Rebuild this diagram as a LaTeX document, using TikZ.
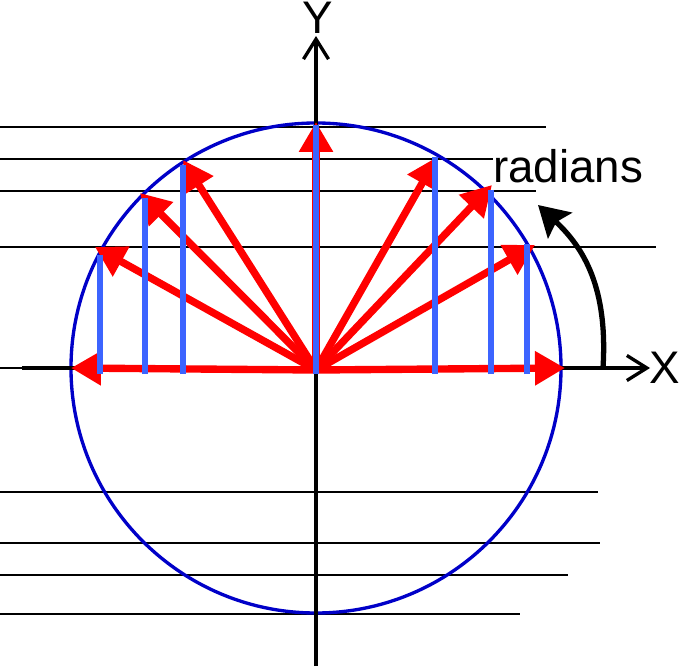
\documentclass[tikz,border=0pt]{standalone}
\usepackage{fontspec}
\setmainfont{Liberation Sans}
\definecolor{vecred}   {RGB}{255,0,0}
\definecolor{projblue} {RGB}{60,100,255}
\definecolor{circblue} {RGB}{0,0,200}
\usetikzlibrary{arrows.meta}
\tikzset{
  level/.style={draw=black,line width=1pt},
  axis/.style={draw=black,line width=1.9pt,
               -{Straight Barb[length=4mm,width=5mm,line width=1.9pt]}},
  vec/.style={draw=vecred,line width=4.2pt,-{Triangle[length=6mm,width=6.5mm]}},
  proj/.style={draw=projblue,line width=3.6pt},
  unit/.style={draw=circblue,line width=1.9pt},
  turn/.style={draw=black,line width=3pt,
               -{Stealth[length=6mm,width=7mm,inset=1mm]}},
  lab/.style={font=\fontsize{26}{31}\selectfont,inner sep=0pt},
}
\begin{document}
\begin{tikzpicture}[x=0.02cm,y=0.02cm]
  \useasboundingbox (-316,-298) rectangle (373,368);
  \coordinate (O) at (0,-2);
  % level lines at the heights of the tips
  \foreach \yy/\xe [count=\i] in {241/230,209/177,177/220,121/340,0/-294,
                                  -124/282,-175/284,-207/252,-246/204}{
    \coordinate (hL\i) at (-316,\yy);
    \coordinate (hR\i) at (\xe,\yy);
    \draw[level] (hL\i) -- (hR\i);
  }
  % unit circle
  \draw[unit] (0,0) circle[radius=245];
  % axes
  \coordinate (xS) at (-294,0);
  \coordinate (xE) at (334,0);
  \coordinate (yS) at (0,-298);
  \coordinate (yE) at (0,332);
  \draw[axis] (xS) -- (xE);
  \draw[axis] (yS) -- (yE);
  \node[lab] (xlab) at (349,0) {X};
  \node[lab] (ylab) at (2,350) {Y};
  % rotating vectors
  \foreach \n/\tx/\ty in {a/249/0,b/219/123,c/176/183,d/121/211,e/0/246,
                          f/-133/208,g/-176/175,h/-221/121,k/-245/0}{
    \coordinate (tip\n) at (\tx,\ty);
    \draw[vec] (O) -- (tip\n);
  }
  % vertical projections
  \foreach \n/\px/\pt in {b/211/124,c/175/178,d/119/211,e/0/243,
                          f/-133/203,g/-171/170,h/-216/113}{
    \coordinate (foot\n) at (\px,-6);
    \coordinate (top\n) at (\px,\pt);
    \draw[proj] (foot\n) -- (top\n);
  }
  % angle arrow
  \coordinate (aS) at (287,0);
  \coordinate (aE) at (222,163);
  \draw[turn] (aS) .. controls (292,80) and (268,120) .. (aE);
  \node[lab,anchor=base] (rad) at (252,185) {radians};
\end{tikzpicture}
\end{document}
